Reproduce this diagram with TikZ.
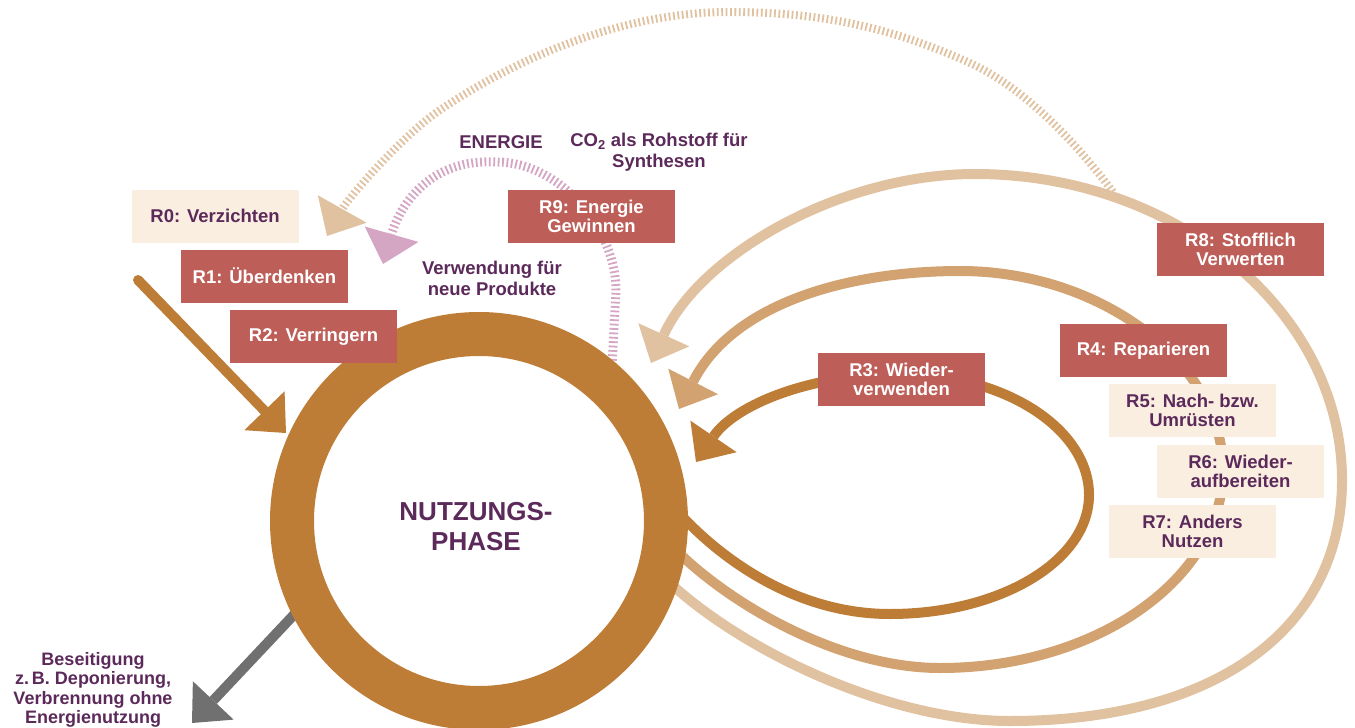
\documentclass[tikz,border=0pt]{standalone}
\usepackage{fontspec}
\setmainfont{Liberation Sans}
\usetikzlibrary{arrows.meta}

\definecolor{ringbrown}{HTML}{BD7D37}
\definecolor{midtan}{HTML}{D3A271}
\definecolor{lighttan}{HTML}{E1C2A0}
\definecolor{pinkhatch}{HTML}{D4A6C4}
\definecolor{boxred}{HTML}{BE5E59}
\definecolor{boxcream}{HTML}{FAEEE1}
\definecolor{plum}{HTML}{5C2A5A}
\definecolor{disposal}{HTML}{707070}

\newcommand\boxfont{\bfseries\fontsize{18.5}{19.5}\selectfont}
\newcommand\notefont{\bfseries\fontsize{18.5}{21}\selectfont}

\tikzset{
  rbox/.style={fill=boxred, text=white, minimum width=167pt, minimum height=53pt,
    inner sep=0pt, align=center, font=\boxfont},
  cbox/.style={fill=boxcream, text=plum, minimum width=167pt, minimum height=53pt,
    inner sep=0pt, align=center, font=\boxfont},
  note/.style={text=plum, align=center, inner sep=0pt, font=\notefont},
  bigtip/.style={-{Triangle[length=31pt,width=56pt,line width=0pt]}},
  flow/.style={line width=10pt, bigtip},
  hatch/.style={dash pattern=on 1.8pt off 2.6pt, bigtip},
}

\begin{document}
\begin{tikzpicture}[x=1pt, y=-1pt]
\useasboundingbox (0,0) rectangle (1355,728);

% anchor points of the flows
\coordinate (ringc) at (479,521);
\coordinate (hatchstart) at (1113,192);
\coordinate (hatchtip) at (327,236);
\coordinate (energystart) at (612,365);
\coordinate (energytip) at (383,264);
\coordinate (r3start) at (672,505);
\coordinate (r3tip) at (696,462);
\coordinate (r4start) at (662,535);
\coordinate (r4tip) at (679,409);
\coordinate (r8start) at (652,565);
\coordinate (r8tip) at (651,363);
\coordinate (infeed) at (138,280);
\coordinate (infeedtip) at (286,433);
\coordinate (dumpstart) at (305,603);
\coordinate (dumptip) at (192,723);

% material recycling back to the start (hatched)
\draw[hatch, lighttan, line width=8pt] (hatchstart)
  .. controls (1077,144) and (1025,88) .. (970,63)
  .. controls (888,26) and (818,12) .. (728,12)
  .. controls (628,12) and (523,54) .. (440,110)
  .. controls (403,135) and (349,197) .. (hatchtip);

% energy recovery (hatched)
\draw[hatch, pinkhatch, line width=9pt] (energystart) -- (616,292)
  .. controls (617,230) and (560,162) .. (497,162)
  .. controls (430,158) and (400,205) .. (energytip);

% R8 loop
\draw[flow, lighttan] (r8start)
  .. controls (720,640) and (880,721) .. (1010,721)
  .. controls (1216,721) and (1342,629) .. (1342,480)
  .. controls (1342,312) and (1177,174) .. (975,174)
  .. controls (840,174) and (700,255) .. (r8tip);

% R4 loop
\draw[flow, midtan] (r4start)
  .. controls (710,592) and (830,668) .. (940,668)
  .. controls (1096,668) and (1223,579) .. (1223,470)
  .. controls (1223,362) and (1100,271) .. (960,271)
  .. controls (855,271) and (735,300) .. (r4tip);

% R3 loop
\draw[flow, ringbrown] (r3start)
  .. controls (712,552) and (790,614) .. (890,614)
  .. controls (1000,614) and (1089,561) .. (1089,495)
  .. controls (1089,429) and (1005,374) .. (900,374)
  .. controls (810,374) and (735,405) .. (r3tip);

% disposal
\draw[flow, disposal] (dumpstart) -- (dumptip);

% use phase ring
\draw[ringbrown, line width=44pt] (ringc) circle[radius=187];

% entry into the use phase
\draw[flow, ringbrown, line cap=round] (infeed) -- (infeedtip);

% strategy boxes
\node[cbox] (r0) at (215,216) {R0: Verzichten};
\node[rbox] (r1) at (264.5,276) {R1: Überdenken};
\node[rbox] (r2) at (313.5,336.5) {R2: Verringern};
\node[rbox] (r9) at (591.5,216.5) {R9: Energie\\Gewinnen};
\node[rbox] (r3) at (901.5,379.5) {R3: Wieder-\\verwenden};
\node[rbox] (r8) at (1240.5,249.5) {R8: Stofflich\\Verwerten};
\node[rbox] (r4) at (1143.5,350.5) {R4: Reparieren};
\node[cbox] (r5) at (1192.5,410.5) {R5: Nach- bzw.\\Umrüsten};
\node[cbox] (r6) at (1240.5,471.5) {R6: Wieder-\\aufbereiten};
\node[cbox] (r7) at (1192.5,531.5) {R7: Anders\\Nutzen};

% labels
\node[note] (energie) at (501,142) {ENERGIE};
\node[note] (co2) at (659,152.5) {CO\textsubscript{2} als Rohstoff für\\Synthesen};
\node[note] (neu) at (492,278.5) {Verwendung für\\neue Produkte};
\node[note, font=\bfseries\fontsize{26}{30}\selectfont] (phase) at (476,527) {NUTZUNGS-\\PHASE};
\node[note, font=\bfseries\fontsize{18}{19.3}\selectfont] (beseitigung) at (93,690) {Beseitigung\\z.\,B. Deponierung,\\Verbrennung ohne\\Energienutzung};
\end{tikzpicture}
\end{document}
